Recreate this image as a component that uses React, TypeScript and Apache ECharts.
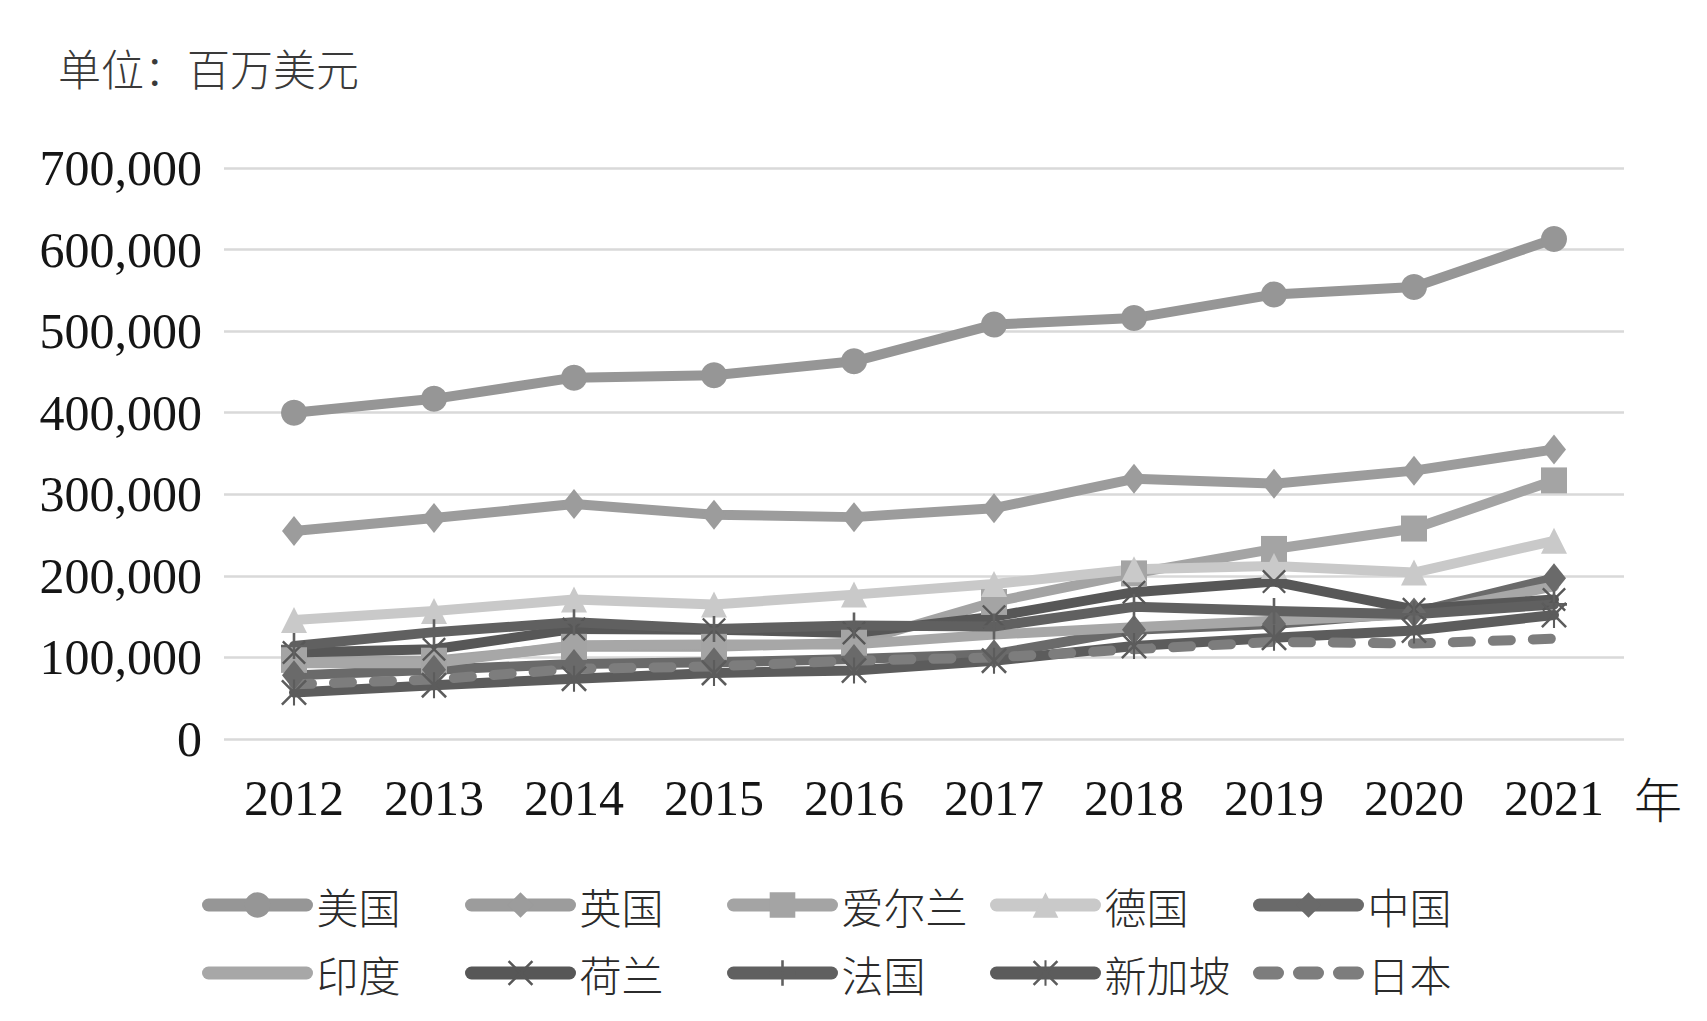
import React, { useEffect, useRef } from 'react';
import * as echarts from 'echarts';

// ---------- data (百万美元) ----------
const years = ['2012', '2013', '2014', '2015', '2016', '2017', '2018', '2019', '2020', '2021'];
const usa = [400000, 417000, 443000, 446000, 463000, 508000, 516000, 545000, 554000, 613000];
const uk = [255000, 271000, 288000, 275000, 272000, 283000, 319000, 313000, 329000, 355000];
const ireland = [97000, 96000, 113000, 113000, 118000, 168000, 203000, 233000, 258000, 317000];
const germany = [146000, 157000, 171000, 165000, 177000, 190000, 208000, 212000, 204000, 243000];
const china = [78000, 85000, 92000, 94000, 98000, 104000, 134000, 141000, 155000, 197000];
const india = [93000, 93000, 115000, 116000, 116000, 128000, 137000, 145000, 153000, 187000];
const netherlands = [106000, 110000, 135000, 134000, 130000, 150000, 180000, 193000, 159000, 171000];
const france = [114000, 131000, 143000, 135000, 139000, 138000, 162000, 157000, 153000, 165000];
const singapore = [57000, 66000, 74000, 81000, 84000, 96000, 114000, 124000, 133000, 152000];
const japan = [67000, 73000, 86000, 89000, 96000, 100000, 110000, 119000, 117000, 123000];
const yTicks = [0, 100000, 200000, 300000, 400000, 500000, 600000, 700000];

// ---------- symbols ----------
const PLUS = 'path://M45,0L55,0L55,45L100,45L100,55L55,55L55,100L45,100L45,55L0,55L0,45L45,45Z';
const CROSS = 'path://M0,7L7,0L50,43L93,0L100,7L57,50L100,93L93,100L50,57L7,100L0,93L43,50Z';
const STAR = CROSS + 'M46,0L54,0L54,100L46,100Z';

const CJK = '"Noto Sans CJK SC", sans-serif';
const SERIF = '"Liberation Serif", "Times New Roman", serif';

const defs = [
  { name: '美国', data: usa, color: '#969696', symbol: 'circle', size: 26 },
  { name: '英国', data: uk, color: '#9c9c9c', symbol: 'diamond', size: [24, 30] },
  { name: '爱尔兰', data: ireland, color: '#a4a4a4', symbol: 'rect', size: 26 },
  { name: '德国', data: germany, color: '#c9c9c9', symbol: 'triangle', size: [26, 26] },
  { name: '中国', data: china, color: '#6a6a6a', symbol: 'diamond', size: [24, 30] },
  { name: '印度', data: india, color: '#a7a7a7', symbol: 'none', size: 0 },
  { name: '荷兰', data: netherlands, color: '#575757', symbol: CROSS, size: 24 },
  { name: '法国', data: france, color: '#606060', symbol: PLUS, size: 26 },
  { name: '新加坡', data: singapore, color: '#5c5c5c', symbol: STAR, size: 26 },
  { name: '日本', data: japan, color: '#7d7d7d', symbol: 'none', size: 0, dashed: true },
];

const legendColumns = [
  ['美国', '印度'],
  ['英国', '荷兰'],
  ['爱尔兰', '法国'],
  ['德国', '新加坡'],
  ['中国', '日本'],
];
const legendLefts = [202, 465, 727, 990, 1253];

export default function App() {
  const ref = useRef<HTMLDivElement>(null);

  useEffect(() => {
    const chart = echarts.init(ref.current as HTMLDivElement, null, { renderer: 'svg' });

    const series = defs.map((d) => ({
      name: d.name,
      type: 'line',
      data: d.data,
      symbol: d.symbol,
      symbolSize: d.size,
      showSymbol: d.symbol !== 'none',
      color: d.color,
      itemStyle: { color: d.color, opacity: 1 },
      lineStyle: {
        color: d.color,
        width: 10,
        cap: 'round',
        join: 'round',
        type: d.dashed ? [18, 22] : 'solid',
      },
      emphasis: { disabled: true },
      z: 2,
    }));

    const legends = legendColumns.map((col, i) => ({
      orient: 'vertical',
      left: legendLefts[i],
      top: 884,
      padding: 0,
      itemGap: 26,
      itemWidth: 98,
      itemHeight: 32,
      data: col.map((n) => {
        const def = defs.find((d) => d.name === n)!;
        return def.symbol === 'none' ? { name: n, itemStyle: { opacity: 0 } } : { name: n };
      }),
      lineStyle: { width: 13, cap: 'round' },
      textStyle: {
        fontSize: 42,
        fontFamily: CJK,
        fontWeight: 300,
        color: '#2b2b2b',
        padding: [0, 0, 0, 5],
      },
      selectedMode: false,
    }));

    const option = {
      animation: false,
      backgroundColor: '#ffffff',
      title: {
        text: '单位：百万美元',
        left: 58,
        top: 45,
        padding: 0,
        textStyle: { fontSize: 43, fontFamily: CJK, fontWeight: 300, color: '#3a3a3a' },
      },
      legend: legends,
      grid: { left: 224, right: 83, top: 168, bottom: 282 },
      xAxis: {
        type: 'category',
        data: years,
        boundaryGap: true,
        name: '年',
        nameLocation: 'end',
        nameGap: 10,
        nameTextStyle: {
          fontSize: 48,
          fontFamily: CJK,
          fontWeight: 300,
          color: '#1a1a1a',
          verticalAlign: 'top',
          padding: [34, 0, 0, 0],
        },
        axisLine: { show: false },
        axisTick: { show: false },
        axisLabel: { fontSize: 50, fontFamily: SERIF, color: '#151515', margin: 34 },
      },
      yAxis: {
        type: 'value',
        min: yTicks[0],
        max: yTicks[yTicks.length - 1],
        interval: yTicks[1] - yTicks[0],
        axisLine: { show: false },
        axisTick: { show: false },
        axisLabel: {
          fontSize: 50,
          fontFamily: SERIF,
          color: '#151515',
          margin: 22,
          formatter: (v: number) => v.toLocaleString('en-US'),
        },
        splitLine: { lineStyle: { color: '#d9d9d9', width: 2.5 } },
      },
      series,
    };

    chart.setOption(option as any);
    return () => chart.dispose();
  }, []);

  return (
    <div
      ref={ref}
      style={{ position: 'fixed', left: 0, top: 0, width: 1707, height: 1021, background: '#ffffff' }}
    />
  );
}
